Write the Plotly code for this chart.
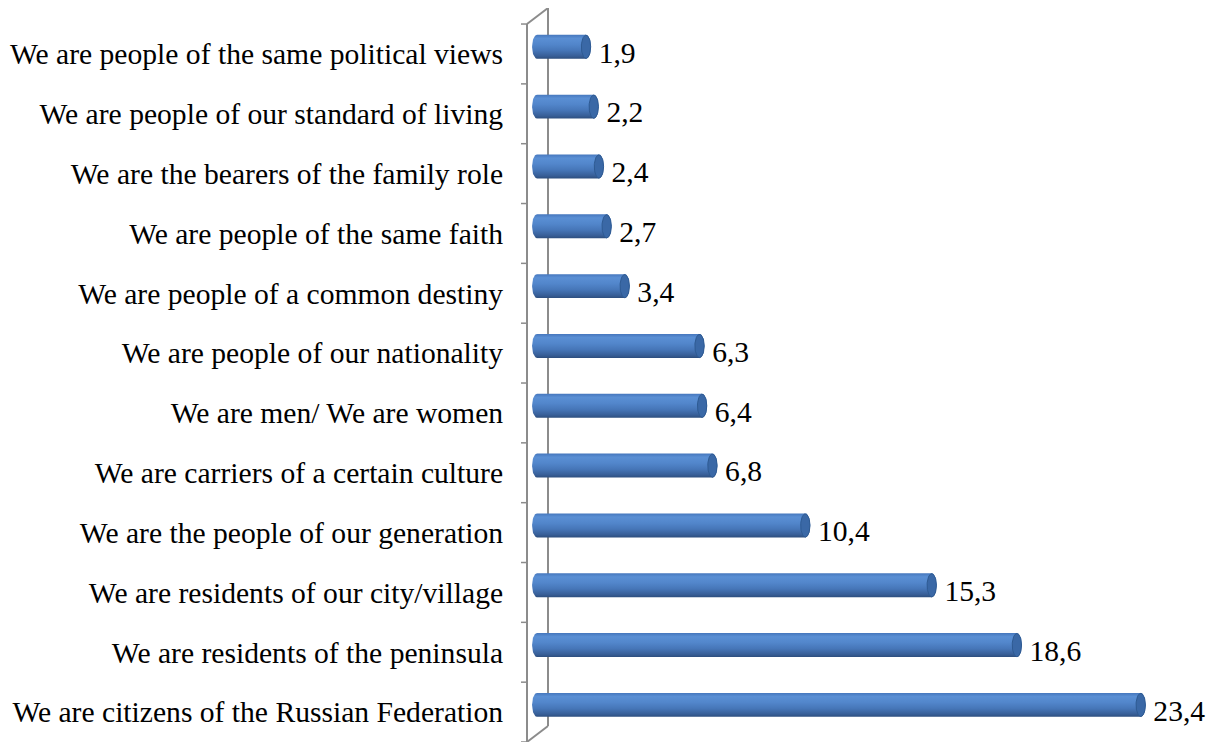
import numpy as np
import plotly.graph_objects as go

categories = [
    "We are people of the same political views",
    "We are people of our standard of living",
    "We are the bearers of the family role",
    "We are people of the same faith",
    "We are people of a common destiny",
    "We are people of our nationality",
    "We are men/ We are women",
    "We are carriers of a certain culture",
    "We are the people of our generation",
    "We are residents of our city/village",
    "We are residents of the peninsula",
    "We are citizens of the Russian Federation",
]
values = [1.9, 2.2, 2.4, 2.7, 3.4, 6.3, 6.4, 6.8, 10.4, 15.3, 18.6, 23.4]
value_labels = ["1,9", "2,2", "2,4", "2,7", "3,4", "6,3", "6,4", "6,8", "10,4", "15,3", "18,6", "23,4"]

n = len(categories)
FONT = "Liberation Serif"
FS = 29.6
OFF = 8            # page body margin offset
SX = 25.8          # px per x unit
L_REF = 515        # plot left edge in screenshot px
ZERO_PX = 537
X0 = -(ZERO_PX - L_REF) / SX
X1 = X0 + (1219 - L_REF) / SX
FRONT_X = -(ZERO_PX - 527) / SX
BACK_X = (548 - ZERO_PX) / SX
DEPTH_Y = 0.268

A = 0.19   # cap half-width (x units)
B = 0.2    # bar half-height (y units)
SHIFT = 0.12

grad = [[0.0, "#2D4E7E"], [0.12, "#385F98"], [0.35, "#4676B8"],
        [0.6, "#5286CB"], [0.85, "#5A8FD4"], [1.0, "#4677BD"]]

fig = go.Figure()

for i, (cat, v) in enumerate(zip(categories, values)):
    yc = (n - 1 - i) + 0.5 + SHIFT
    t1 = np.linspace(np.pi / 2, 3 * np.pi / 2, 30)
    t2 = np.linspace(-np.pi / 2, np.pi / 2, 30)
    xs = np.concatenate([A * np.cos(t1), v + A * np.cos(t2)])
    ys = np.concatenate([yc + B * np.sin(t1), yc + B * np.sin(t2)])
    xs = np.append(xs, xs[0]); ys = np.append(ys, ys[0])
    fig.add_trace(go.Scatter(
        x=xs, y=ys, mode="lines", fill="toself",
        line=dict(width=0, color="#4677BD"),
        fillgradient=dict(type="vertical", colorscale=grad),
        hoverinfo="skip", showlegend=False,
    ))
    t = np.linspace(0, 2 * np.pi, 60)
    fig.add_trace(go.Scatter(
        x=v + A * 0.95 * np.cos(t), y=yc + B * 0.97 * np.sin(t),
        mode="lines", fill="toself", fillcolor="#3A68A6",
        line=dict(width=1, color="#2E5A92"),
        hoverinfo="skip", showlegend=False,
    ))

label_y = [(n - 1 - i) + 0.5 - 0.02 for i in range(n)]
fig.add_trace(go.Scatter(
    x=[v + A + 0.3 for v in values], y=label_y, mode="text",
    text=value_labels, textposition="middle right",
    textfont=dict(family=FONT, size=FS, color="black"),
    hoverinfo="skip", showlegend=False, cliponaxis=False,
))

gray = "#8C8C8C"
shapes = [
    dict(type="line", x0=FRONT_X, x1=FRONT_X, y0=-0.1, y1=n, line=dict(color=gray, width=2), layer="below"),
    dict(type="line", x0=BACK_X, x1=BACK_X, y0=DEPTH_Y, y1=n + DEPTH_Y, line=dict(color=gray, width=2), layer="below"),
    dict(type="line", x0=FRONT_X, x1=BACK_X, y0=n, y1=n + DEPTH_Y, line=dict(color=gray, width=2), layer="below"),
    dict(type="line", x0=FRONT_X, x1=BACK_X, y0=0, y1=DEPTH_Y, line=dict(color=gray, width=2), layer="below"),
]
for k in range(n + 1):
    shapes.append(dict(type="line", x0=FRONT_X - 6 / SX, x1=FRONT_X, y0=k, y1=k,
                       line=dict(color=gray, width=1.5), layer="below"))

fig.update_layout(
    width=1219, height=742,
    margin=dict(l=L_REF - OFF, r=OFF, t=8 - OFF, b=OFF, autoexpand=False),
    paper_bgcolor="white", plot_bgcolor="white",
    shapes=shapes,
    xaxis=dict(range=[X0, X1], visible=False),
    yaxis=dict(range=[0, n + DEPTH_Y], tickmode="array",
               tickvals=[(n - 1 - i) + 0.5 for i in range(n)], ticktext=categories,
               ticks="outside", ticklen=5, tickcolor="rgba(0,0,0,0)",
               showline=False, showgrid=False, zeroline=False, automargin=False,
               tickfont=dict(family=FONT, size=FS, color="black")),
    font=dict(family=FONT, size=FS, color="black"),
)

fig.write_html("out.html")
